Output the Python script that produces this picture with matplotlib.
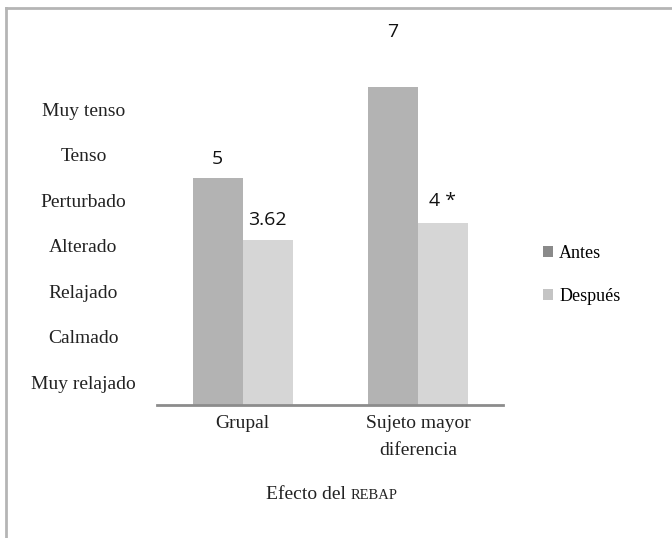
import matplotlib.pyplot as plt
from matplotlib.lines import Line2D
from matplotlib.offsetbox import TextArea, HPacker, AnnotationBbox

# escala de estado emocional (de abajo hacia arriba)
niveles = ['Muy relajado', 'Calmado', 'Relajado', 'Alterado',
           'Perturbado', 'Tenso', 'Muy tenso']
grupos = ['Grupal', 'Sujeto mayor\ndiferencia']
antes = [5, 7]
despues = [3.62, 4]
etiq_antes = ['5', '7']
etiq_despues = ['3.62', '4 *']

serif = 'Liberation Serif'
sans = 'Open Sans'

fig = plt.figure(figsize=(6.72, 5.38), dpi=100)
ax = fig.add_axes([157/672, 133/538, 346/672, 364/538])

x = list(range(len(grupos)))
w = 0.286
b1 = ax.bar([i - w/2 for i in x], antes, w, color='#b3b3b3', label='Antes')
b2 = ax.bar([i + w/2 for i in x], despues, w, color='#d6d6d6', label='Después')

# valores encima de cada barra
off_antes = [7, 33]
off_despues = [8, 9]
for r, t, o in zip(b1, etiq_antes, off_antes):
    ax.annotate(t, (r.get_x() + r.get_width()/2, r.get_height()),
                xytext=(0, o), textcoords='offset points', ha='center',
                va='bottom', fontsize=14, family=sans, color='#111111')
for r, t, o in zip(b2, etiq_despues, off_despues):
    ax.annotate(t, (r.get_x() + r.get_width()/2, r.get_height()),
                xytext=(0, o), textcoords='offset points', ha='center',
                va='bottom', fontsize=14, family=sans, color='#111111')

ax.set_xlim(-0.49, 1.486)
ax.set_ylim(0, 8)
ax.set_yticks([k + 0.5 for k in range(len(niveles))])
ax.set_yticklabels(niveles, family=serif, fontsize=14, color='#222222')
for lab in ax.get_yticklabels():
    lab.set_ha('center')
ax.tick_params(axis='y', length=0, pad=53)
ax.set_xticks(x)
ax.set_xticklabels(grupos, family=serif, fontsize=14, color='#222222',
                   linespacing=1.75)
ax.tick_params(axis='x', length=0, pad=7.5)

for s in ['top', 'right', 'left']:
    ax.spines[s].set_visible(False)
ax.spines['bottom'].set_color('#8c8c8c')
ax.spines['bottom'].set_linewidth(2)

# titulo del eje con REBAP en versalitas
t1 = TextArea('Efecto del', textprops=dict(family=serif, fontsize=14, color='#222222'))
t2 = TextArea('REBAP', textprops=dict(family=serif, fontsize=10.5, color='#222222'))
caja = HPacker(children=[t1, t2], align='baseline', pad=0, sep=4)
ab = AnnotationBbox(caja, (0.505, -0.245), xycoords='axes fraction',
                    box_alignment=(0.5, 0.5), frameon=False)
ax.add_artist(ab)

leg = fig.legend(handles=[b1, b2], loc='center left',
                 bbox_to_anchor=(543/672, 1 - 275/538), frameon=False,
                 prop=dict(family=serif, size=13), handlelength=0.55,
                 handleheight=0.55, handletextpad=0.35, labelspacing=1.45,
                 borderpad=0, borderaxespad=0)
leg.legend_handles[0].set_facecolor('#8a8a8a')
leg.legend_handles[1].set_facecolor('#c4c4c4')

# marco gris arriba y a la izquierda
fig.add_artist(Line2D([6/672, 1], [1 - 8/538, 1 - 8/538], color='#b5b5b5', lw=2))
fig.add_artist(Line2D([6/672, 6/672], [0, 1 - 8/538], color='#b5b5b5', lw=2))

fig.savefig('out.png', dpi=100)
